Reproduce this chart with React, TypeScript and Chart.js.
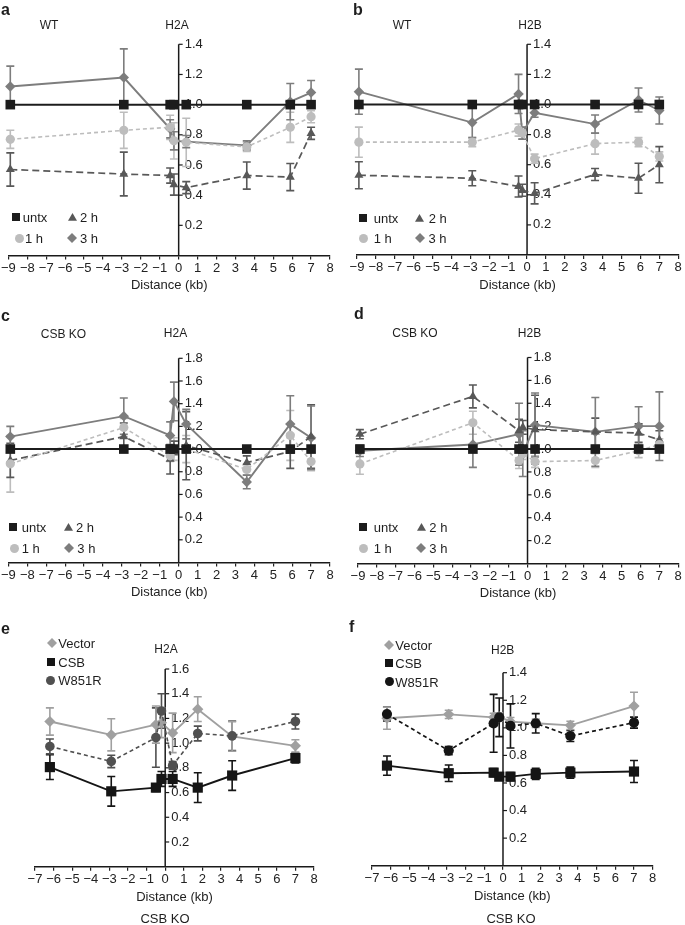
import React, { useEffect, useRef } from "react";
import { Chart, registerables } from "chart.js";
Chart.register(...registerables);

const FONT = "'Liberation Sans', Arial, Helvetica, sans-serif";

// ---------- DATA ----------
const X_WT = [-8.9, -2.9, -0.45, -0.25, 0.4, 3.6, 5.9, 7.0];
const X_RESCUE = [-6.2, -2.9, -0.5, -0.2, 0.4, 1.75, 3.6, 7.0];

const Y_TICKS_14 = [0.2, 0.4, 0.6, 0.8, 1.0, 1.2, 1.4];
const Y_TICKS_16 = [0.2, 0.4, 0.6, 0.8, 1.0, 1.2, 1.4, 1.6];
const Y_TICKS_18 = [0.2, 0.4, 0.6, 0.8, 1.0, 1.2, 1.4, 1.6, 1.8];

// a: WT H2A
const A_UNTX = [1, 1, 1, 1, 1, 1, 1, 1];
const A_1H = [0.77, 0.83, 0.85, 0.76, 0.75, 0.72, 0.85, 0.92];
const A_1H_ERR = [0.06, 0.12, 0.08, 0.12, 0.16, 0.03, 0.1, 0.04];
const A_2H = [0.57, 0.54, 0.53, 0.47, 0.45, 0.53, 0.52, 0.81];
const A_2H_ERR = [0.11, 0.145, 0.05, 0.07, 0.04, 0.09, 0.09, 0.04];
const A_3H = [1.12, 1.18, 0.84, 0.76, 0.755, 0.73, 1.02, 1.08];
const A_3H_ERR = [0.135, 0.19, 0.06, 0.06, 0.04, 0.03, 0.12, 0.08];

// b: WT H2B
const B_UNTX = [1, 1, 1, 1, 1, 1, 1, 1];
const B_1H = [0.75, 0.75, 0.83, 0.81, 0.64, 0.74, 0.75, 0.655];
const B_1H_ERR = [0.1, 0.03, 0.04, 0.04, 0.03, 0.07, 0.03, 0.03];
const B_2H = [0.53, 0.51, 0.455, 0.43, 0.41, 0.535, 0.51, 0.6];
const B_2H_ERR = [0.09, 0.05, 0.07, 0.04, 0.07, 0.04, 0.1, 0.12];
const B_3H = [1.085, 0.88, 1.07, 0.81, 0.945, 0.87, 1.03, 0.96];
const B_3H_ERR = [0.15, 0.1, 0.13, 0.04, 0.03, 0.06, 0.08, 0.09];

// c: CSB KO H2A
const C_UNTX = [1, 1, 1, 1, 1, 1, 1, 1];
const C_1H = [0.87, 1.19, 0.94, 1.0, 1.0, 0.82, 1.12, 0.89];
const C_1H_ERR = [0.25, 0.08, 0.05, 0.1, 0.12, 0.05, 0.22, 0.08];
const C_2H = [0.9, 1.11, 0.91, 1.01, 1.03, 0.88, 0.98, 1.11];
const C_2H_ERR = [0.15, 0.12, 0.13, 0.06, 0.3, 0.06, 0.15, 0.28];
const C_3H = [1.11, 1.29, 1.12, 1.42, 1.22, 0.71, 1.22, 1.1];
const C_3H_ERR = [0.09, 0.16, 0.12, 0.17, 0.13, 0.06, 0.25, 0.28];

// d: CSB KO H2B
const D_UNTX = [1, 1, 1, 1, 1, 1, 1, 1];
const D_1H = [0.87, 1.23, 0.9, 0.96, 0.89, 0.9, 0.985, 1.04];
const D_1H_ERR = [0.09, 0.1, 0.07, 0.05, 0.05, 0.06, 0.06, 0.05];
const D_2H = [1.13, 1.46, 1.16, 1.19, 1.17, 1.15, 1.14, 1.08];
const D_2H_ERR = [0.04, 0.1, 0.1, 0.06, 0.3, 0.12, 0.08, 0.08];
const D_3H = [0.985, 1.04, 1.13, 0.96, 1.21, 1.15, 1.2, 1.2];
const D_3H_ERR = [0.05, 0.2, 0.27, 0.2, 0.28, 0.3, 0.17, 0.3];

// e: CSB KO rescue H2A
const E_VECTOR = [1.175, 1.067, 1.15, 1.165, 1.083, 1.275, 1.054, 0.978];
const E_VECTOR_ERR = [0.11, 0.13, 0.15, 0.12, 0.16, 0.1, 0.12, 0.05];
const E_CSB = [0.806, 0.61, 0.64, 0.71, 0.71, 0.64, 0.738, 0.879];
const E_CSB_ERR = [0.1, 0.12, 0.03, 0.06, 0.06, 0.12, 0.12, 0.04];
const E_W851R = [0.973, 0.852, 1.045, 1.26, 0.82, 1.078, 1.059, 1.175];
const E_W851R_ERR = [0.06, 0.05, 0.24, 0.14, 0.03, 0.06, 0.12, 0.06];

// f: CSB KO rescue H2B
const F_VECTOR = [1.07, 1.098, 1.076, 1.08, 1.045, 1.033, 1.018, 1.158];
const F_VECTOR_ERR = [0.08, 0.03, 0.03, 0.03, 0.03, 0.03, 0.03, 0.1];
const F_CSB = [0.726, 0.671, 0.675, 0.646, 0.646, 0.666, 0.675, 0.683];
const F_CSB_ERR = [0.07, 0.06, 0.03, 0.02, 0.03, 0.04, 0.04, 0.08];
const F_W851R = [1.1, 0.835, 1.033, 1.076, 1.014, 1.033, 0.941, 1.038];
const F_W851R_ERR = [0.05, 0.03, 0.21, 0.14, 0.16, 0.07, 0.04, 0.04];

// ---------- STYLES ----------
type Sty = { color: string; point: string; radius: number; dash: number[]; width: number; legend: number };
const STY: Record<string, Sty> = {
  untx: { color: "#1c1c1c", point: "rect", radius: 6.8, dash: [], width: 2, legend: 8 },
  h1: { color: "#bdbdbd", point: "circle", radius: 4.6, dash: [4, 3], width: 1.6, legend: 9 },
  h2: { color: "#585858", point: "triangle", radius: 5.2, dash: [7, 4], width: 1.7, legend: 9 },
  h3: { color: "#7d7d7d", point: "rectRot", radius: 5.2, dash: [], width: 1.9, legend: 10 },
  vec: { color: "#a0a0a0", point: "rectRot", radius: 5.6, dash: [], width: 1.9, legend: 10 },
  csb: { color: "#151515", point: "rect", radius: 7.2, dash: [], width: 1.9, legend: 8 },
  wE: { color: "#505050", point: "circle", radius: 4.8, dash: [4, 3], width: 1.6, legend: 9 },
  wF: { color: "#151515", point: "circle", radius: 5.1, dash: [4, 3], width: 1.7, legend: 9 },
};

const AXIS_H = 38.2;

function ds(label: string, xs: number[], ys: number[], errs: number[] | null, s: Sty) {
  return {
    label,
    data: xs.map((x, i) => ({ x, y: ys[i] })),
    errors: errs,
    borderColor: s.color,
    backgroundColor: s.color,
    pointBackgroundColor: s.color,
    pointBorderColor: s.color,
    pointBorderWidth: 0,
    pointStyle: s.point,
    pointRadius: s.radius,
    borderDash: s.dash,
    borderWidth: s.width,
    tension: 0,
    fill: false,
    clip: false,
  };
}

function makeYAxisPlugin(ticks: number[]) {
  return {
    id: "yAxisAtZero",
    beforeDatasetsDraw(chart: any) {
      const { ctx, scales } = chart;
      const xs = scales.x, ys = scales.y;
      const px = xs.getPixelForValue(0);
      const top = ys.getPixelForValue(ys.max);
      const bot = ys.getPixelForValue(0);
      ctx.save();
      ctx.strokeStyle = "#1a1a1a";
      ctx.lineWidth = 1.5;
      ctx.setLineDash([]);
      ctx.beginPath();
      ctx.moveTo(px, bot);
      ctx.lineTo(px, top);
      ctx.stroke();
      ctx.lineWidth = 1.2;
      ctx.font = `13px ${FONT}`;
      ctx.fillStyle = "#222";
      ctx.textAlign = "left";
      ctx.textBaseline = "middle";
      ticks.forEach((t) => {
        const py = ys.getPixelForValue(t);
        ctx.beginPath();
        ctx.moveTo(px, py);
        ctx.lineTo(px + 4, py);
        ctx.stroke();
        ctx.fillText(t.toFixed(1), px + 6, py);
      });
      ctx.restore();
    },
  };
}

const errorBarPlugin = {
  id: "errorBars",
  beforeDatasetsDraw(chart: any) {
    const { ctx, scales } = chart;
    const xs = scales.x, ys = scales.y;
    chart.data.datasets.forEach((d: any) => {
      const errs = d.errors;
      if (!errs) return;
      ctx.save();
      ctx.strokeStyle = d.borderColor;
      ctx.lineWidth = 1.6;
      ctx.setLineDash([]);
      d.data.forEach((p: any, i: number) => {
        const e = errs[i];
        if (!e) return;
        const px = xs.getPixelForValue(p.x);
        const y1 = ys.getPixelForValue(p.y + e);
        const y2 = ys.getPixelForValue(p.y - e);
        ctx.beginPath();
        ctx.moveTo(px, y1);
        ctx.lineTo(px, y2);
        ctx.moveTo(px - 4, y1);
        ctx.lineTo(px + 4, y1);
        ctx.moveTo(px - 4, y2);
        ctx.lineTo(px + 4, y2);
        ctx.stroke();
      });
      ctx.restore();
    });
  },
};

type PanelCfg = {
  box: { x: number; y: number; w: number; h: number };
  area: { l: number; r: number; t: number; b: number };
  xMin: number;
  xMax: number;
  yMax: number;
  yTicks: number[];
  datasets: any[];
};

const PANELS: PanelCfg[] = [
  {
    box: { x: 0, y: 0, w: 342, h: 320 },
    area: { l: 7.3, r: 330, t: 44.3, b: 255.5 },
    xMin: -9, xMax: 8, yMax: 1.4, yTicks: Y_TICKS_14,
    datasets: [
      ds("untx", X_WT, A_UNTX, null, STY.untx),
      ds("1 h", X_WT, A_1H, A_1H_ERR, STY.h1),
      ds("2 h", X_WT, A_2H, A_2H_ERR, STY.h2),
      ds("3 h", X_WT, A_3H, A_3H_ERR, STY.h3),
    ],
  },
  {
    box: { x: 342, y: 0, w: 343, h: 320 },
    area: { l: 357, r: 682, t: 44.3, b: 255 },
    xMin: -9, xMax: 8, yMax: 1.4, yTicks: Y_TICKS_14,
    datasets: [
      ds("untx", X_WT, B_UNTX, null, STY.untx),
      ds("1 h", X_WT, B_1H, B_1H_ERR, STY.h1),
      ds("2 h", X_WT, B_2H, B_2H_ERR, STY.h2),
      ds("3 h", X_WT, B_3H, B_3H_ERR, STY.h3),
    ],
  },
  {
    box: { x: 0, y: 300, w: 342, h: 320 },
    area: { l: 7.3, r: 330, t: 358.3, b: 562.5 },
    xMin: -9, xMax: 8, yMax: 1.8, yTicks: Y_TICKS_18,
    datasets: [
      ds("untx", X_WT, C_UNTX, null, STY.untx),
      ds("1 h", X_WT, C_1H, C_1H_ERR, STY.h1),
      ds("2 h", X_WT, C_2H, C_2H_ERR, STY.h2),
      ds("3 h", X_WT, C_3H, C_3H_ERR, STY.h3),
    ],
  },
  {
    box: { x: 342, y: 300, w: 343, h: 320 },
    area: { l: 358, r: 682, t: 357.5, b: 563.5 },
    xMin: -9, xMax: 8, yMax: 1.8, yTicks: Y_TICKS_18,
    datasets: [
      ds("untx", X_WT, D_UNTX, null, STY.untx),
      ds("1 h", X_WT, D_1H, D_1H_ERR, STY.h1),
      ds("2 h", X_WT, D_2H, D_2H_ERR, STY.h2),
      ds("3 h", X_WT, D_3H, D_3H_ERR, STY.h3),
    ],
  },
  {
    box: { x: 0, y: 600, w: 342, h: 320 },
    area: { l: 35, r: 314, t: 669, b: 866.7 },
    xMin: -7, xMax: 8, yMax: 1.6, yTicks: Y_TICKS_16,
    datasets: [
      ds("CSB", X_RESCUE, E_CSB, E_CSB_ERR, STY.csb),
      ds("W851R", X_RESCUE, E_W851R, E_W851R_ERR, STY.wE),
      ds("Vector", X_RESCUE, E_VECTOR, E_VECTOR_ERR, STY.vec),
    ],
  },
  {
    box: { x: 342, y: 600, w: 343, h: 320 },
    area: { l: 372, r: 652.7, t: 672.7, b: 865.7 },
    xMin: -7, xMax: 8, yMax: 1.4, yTicks: Y_TICKS_14,
    datasets: [
      ds("CSB", X_RESCUE, F_CSB, F_CSB_ERR, STY.csb),
      ds("W851R", X_RESCUE, F_W851R, F_W851R_ERR, STY.wF),
      ds("Vector", X_RESCUE, F_VECTOR, F_VECTOR_ERR, STY.vec),
    ],
  },
];

function fmtTick(v: number) {
  return v < 0 ? "\u2212" + Math.abs(v) : String(v);
}

function ChartPanel({ cfg }: { cfg: PanelCfg }) {
  const ref = useRef<HTMLCanvasElement>(null);
  useEffect(() => {
    const { box, area } = cfg;
    const chart = new Chart(ref.current as HTMLCanvasElement, {
      type: "line",
      data: { datasets: cfg.datasets },
      options: {
        animation: false,
        responsive: false,
        maintainAspectRatio: false,
        devicePixelRatio: 1,
        layout: {
          padding: {
            left: area.l - box.x,
            right: box.x + box.w - area.r,
            top: area.t - box.y,
            bottom: box.y + box.h - area.b - AXIS_H,
          },
        },
        plugins: { legend: { display: false }, tooltip: { enabled: false } },
        scales: {
          x: {
            type: "linear",
            min: cfg.xMin,
            max: cfg.xMax,
            ticks: {
              stepSize: 1,
              autoSkip: false,
              maxRotation: 0,
              padding: 1,
              font: { family: FONT, size: 13 },
              color: "#222",
              callback: (v: any) => fmtTick(Number(v)),
            },
            grid: { drawOnChartArea: false, drawTicks: true, tickLength: 4, color: "#222", lineWidth: 1.2 },
            border: { display: true, color: "#1a1a1a", width: 1.5 },
            title: {
              display: true,
              text: "Distance (kb)",
              font: { family: FONT, size: 13 },
              color: "#222",
              padding: { top: 1, bottom: 0 },
            },
          },
          y: { type: "linear", min: 0, max: cfg.yMax, display: false },
        },
      } as any,
      plugins: [makeYAxisPlugin(cfg.yTicks), errorBarPlugin],
    });
    return () => chart.destroy();
  }, [cfg]);
  return (
    <canvas
      ref={ref}
      width={cfg.box.w}
      height={cfg.box.h}
      style={{ position: "absolute", left: cfg.box.x, top: cfg.box.y, width: cfg.box.w, height: cfg.box.h }}
    />
  );
}

function Txt({ x, y, text, align = "center", size = 12, bold = false }: any) {
  return (
    <div
      style={{
        position: "absolute",
        left: x,
        top: y,
        transform: `translate(${align === "center" ? "-50%" : "0"}, -50%)`,
        font: `${bold ? "bold " : ""}${size}px ${FONT}`,
        color: "#1e1e1e",
        whiteSpace: "nowrap",
        lineHeight: 1,
      }}
    >
      {text}
    </div>
  );
}

function Marker({ x, y, sty }: { x: number; y: number; sty: Sty }) {
  const s = sty.legend;
  let el: any = null;
  if (sty.point === "rect") el = <rect x={0} y={0} width={s} height={s} fill={sty.color} />;
  else if (sty.point === "circle") el = <circle cx={s / 2} cy={s / 2} r={s / 2} fill={sty.color} />;
  else if (sty.point === "triangle") el = <polygon points={`${s / 2},0 ${s},${s * 0.87} 0,${s * 0.87}`} fill={sty.color} />;
  else el = <polygon points={`${s / 2},0 ${s},${s / 2} ${s / 2},${s} 0,${s / 2}`} fill={sty.color} />;
  return (
    <svg style={{ position: "absolute", left: x - s / 2, top: y - s / 2 }} width={s} height={s}>
      {el}
    </svg>
  );
}

type LegItem = { sty: Sty; text: string; mx: number; tx: number; y: number };
const LEGENDS: LegItem[] = [
  // a
  { sty: STY.untx, text: "untx", mx: 15.5, tx: 22.7, y: 217.3 },
  { sty: STY.h2, text: "2 h", mx: 72.5, tx: 80, y: 217.3 },
  { sty: STY.h1, text: "1 h", mx: 19, tx: 25, y: 238.3 },
  { sty: STY.h3, text: "3 h", mx: 71.5, tx: 80, y: 238.3 },
  // b
  { sty: STY.untx, text: "untx", mx: 363, tx: 373.7, y: 218.3 },
  { sty: STY.h2, text: "2 h", mx: 419.5, tx: 428.7, y: 218.3 },
  { sty: STY.h1, text: "1 h", mx: 363.3, tx: 373.7, y: 238.3 },
  { sty: STY.h3, text: "3 h", mx: 420.3, tx: 428.5, y: 238.3 },
  // c
  { sty: STY.untx, text: "untx", mx: 13, tx: 21.7, y: 527.3 },
  { sty: STY.h2, text: "2 h", mx: 68, tx: 76, y: 527.3 },
  { sty: STY.h1, text: "1 h", mx: 14, tx: 21.7, y: 548.3 },
  { sty: STY.h3, text: "3 h", mx: 68.7, tx: 77.3, y: 548.3 },
  // d
  { sty: STY.untx, text: "untx", mx: 362.8, tx: 373.7, y: 527.3 },
  { sty: STY.h2, text: "2 h", mx: 421.7, tx: 429.3, y: 527.3 },
  { sty: STY.h1, text: "1 h", mx: 363, tx: 373.7, y: 548.3 },
  { sty: STY.h3, text: "3 h", mx: 421, tx: 429.3, y: 548.3 },
  // e
  { sty: STY.vec, text: "Vector", mx: 51.7, tx: 58.3, y: 643.3 },
  { sty: STY.csb, text: "CSB", mx: 50.5, tx: 58.3, y: 661.7 },
  { sty: STY.wE, text: "W851R", mx: 50.5, tx: 58.3, y: 680 },
  // f
  { sty: STY.vec, text: "Vector", mx: 388.7, tx: 395.3, y: 645 },
  { sty: STY.csb, text: "CSB", mx: 388.7, tx: 395.3, y: 663.3 },
  { sty: STY.wF, text: "W851R", mx: 389.7, tx: 395.3, y: 681.7 },
];

const LABELS = [
  { text: "a", x: 1, y: 10, align: "left", size: 16, bold: true },
  { text: "b", x: 353, y: 10, align: "left", size: 16, bold: true },
  { text: "c", x: 1, y: 315.5, align: "left", size: 16, bold: true },
  { text: "d", x: 354, y: 314, align: "left", size: 16, bold: true },
  { text: "e", x: 1, y: 628.5, align: "left", size: 16, bold: true },
  { text: "f", x: 349, y: 627, align: "left", size: 16, bold: true },
  { text: "WT", x: 49, y: 25 },
  { text: "H2A", x: 177, y: 25 },
  { text: "WT", x: 402, y: 25 },
  { text: "H2B", x: 530, y: 25 },
  { text: "CSB KO", x: 63.5, y: 333.5 },
  { text: "H2A", x: 175.5, y: 333 },
  { text: "CSB KO", x: 415, y: 333 },
  { text: "H2B", x: 529.5, y: 333 },
  { text: "H2A", x: 166, y: 649 },
  { text: "H2B", x: 502.7, y: 650 },
  { text: "CSB KO", x: 165, y: 917.5, size: 13 },
  { text: "CSB KO", x: 511, y: 917.5, size: 13 },
];

export default function App() {
  return (
    <div style={{ position: "absolute", left: 0, top: 0, width: 685, height: 925, background: "#fff", overflow: "hidden" }}>
      {PANELS.map((p, i) => (
        <ChartPanel key={i} cfg={p} />
      ))}
      {LABELS.map((l, i) => (
        <Txt key={"l" + i} x={l.x} y={l.y} text={l.text} align={l.align || "center"} size={l.size || 12} bold={l.bold} />
      ))}
      {LEGENDS.map((g, i) => (
        <React.Fragment key={"g" + i}>
          <Marker x={g.mx} y={g.y} sty={g.sty} />
          <Txt x={g.tx} y={g.y} text={g.text} align="left" size={13} />
        </React.Fragment>
      ))}
    </div>
  );
}
